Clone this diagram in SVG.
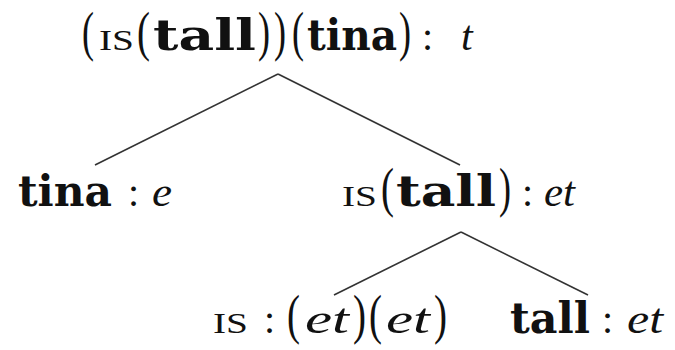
<svg xmlns="http://www.w3.org/2000/svg" width="675" height="350" viewBox="0 0 675 350">
<style>
text{font-family:"Liberation Serif","Times New Roman",serif;fill:#111}
.b{font-family:"DejaVu Serif",serif;font-weight:bold;font-size:42px}
.i{font-style:italic;font-size:42px}
.sc{font-size:30px}
.p{font-size:54px}
.c{font-size:40px}
.edge{stroke:#333;stroke-width:1.6;fill:none}
</style>
<rect width="675" height="350" fill="#fff"/>
<g id="connectors">
<line class="edge" x1="278" y1="74" x2="95" y2="165"/>
<line class="edge" x1="278" y1="74" x2="460" y2="165"/>
<line class="edge" x1="461" y1="232" x2="334" y2="295"/>
<line class="edge" x1="461" y1="232" x2="588" y2="295"/>
</g>
<g id="root">
<text y="50"><tspan class="p" x="82" textLength="12" lengthAdjust="spacingAndGlyphs">(</tspan><tspan class="sc" x="99" textLength="35" lengthAdjust="spacingAndGlyphs">IS</tspan><tspan class="p" x="137" textLength="13" lengthAdjust="spacingAndGlyphs">(</tspan><tspan class="b" x="153" textLength="103" lengthAdjust="spacingAndGlyphs">tall</tspan><tspan class="p" x="258" textLength="12" lengthAdjust="spacingAndGlyphs">)</tspan><tspan class="p" x="274" textLength="12" lengthAdjust="spacingAndGlyphs">)</tspan><tspan class="p" x="292" textLength="12" lengthAdjust="spacingAndGlyphs">(</tspan><tspan class="b" x="307" textLength="90" lengthAdjust="spacingAndGlyphs">tina</tspan><tspan class="p" x="399" textLength="12" lengthAdjust="spacingAndGlyphs">)</tspan><tspan class="c" x="422">:</tspan><tspan class="i" x="461">t</tspan></text>
</g>
<g id="tina">
<text y="206"><tspan class="b" x="18" textLength="94" lengthAdjust="spacingAndGlyphs">tina</tspan><tspan class="c" x="128">:</tspan><tspan class="i" x="152" textLength="20" lengthAdjust="spacingAndGlyphs">e</tspan></text>
</g>
<g id="is-tall">
<text y="206"><tspan class="sc" x="342" textLength="35" lengthAdjust="spacingAndGlyphs">IS</tspan><tspan class="p" x="381" textLength="13" lengthAdjust="spacingAndGlyphs">(</tspan><tspan class="b" x="396" textLength="100" lengthAdjust="spacingAndGlyphs">tall</tspan><tspan class="p" x="499" textLength="12" lengthAdjust="spacingAndGlyphs">)</tspan><tspan class="c" x="522">:</tspan><tspan class="i" x="544" textLength="31" lengthAdjust="spacingAndGlyphs">et</tspan></text>
</g>
<g id="is">
<text y="333"><tspan class="sc" x="213" textLength="35" lengthAdjust="spacingAndGlyphs">IS</tspan><tspan class="c" x="264">:</tspan><tspan class="p" x="287" textLength="13" lengthAdjust="spacingAndGlyphs">(</tspan><tspan class="i" x="305" textLength="44" lengthAdjust="spacingAndGlyphs">et</tspan><tspan class="p" x="353" textLength="13" lengthAdjust="spacingAndGlyphs">)</tspan><tspan class="p" x="369" textLength="13" lengthAdjust="spacingAndGlyphs">(</tspan><tspan class="i" x="386" textLength="44" lengthAdjust="spacingAndGlyphs">et</tspan><tspan class="p" x="434" textLength="13" lengthAdjust="spacingAndGlyphs">)</tspan></text>
</g>
<g id="tall">
<text y="333"><tspan class="b" x="510" textLength="80" lengthAdjust="spacingAndGlyphs">tall</tspan><tspan class="c" x="602">:</tspan><tspan class="i" x="627" textLength="36" lengthAdjust="spacingAndGlyphs">et</tspan></text>
</g>
</svg>
